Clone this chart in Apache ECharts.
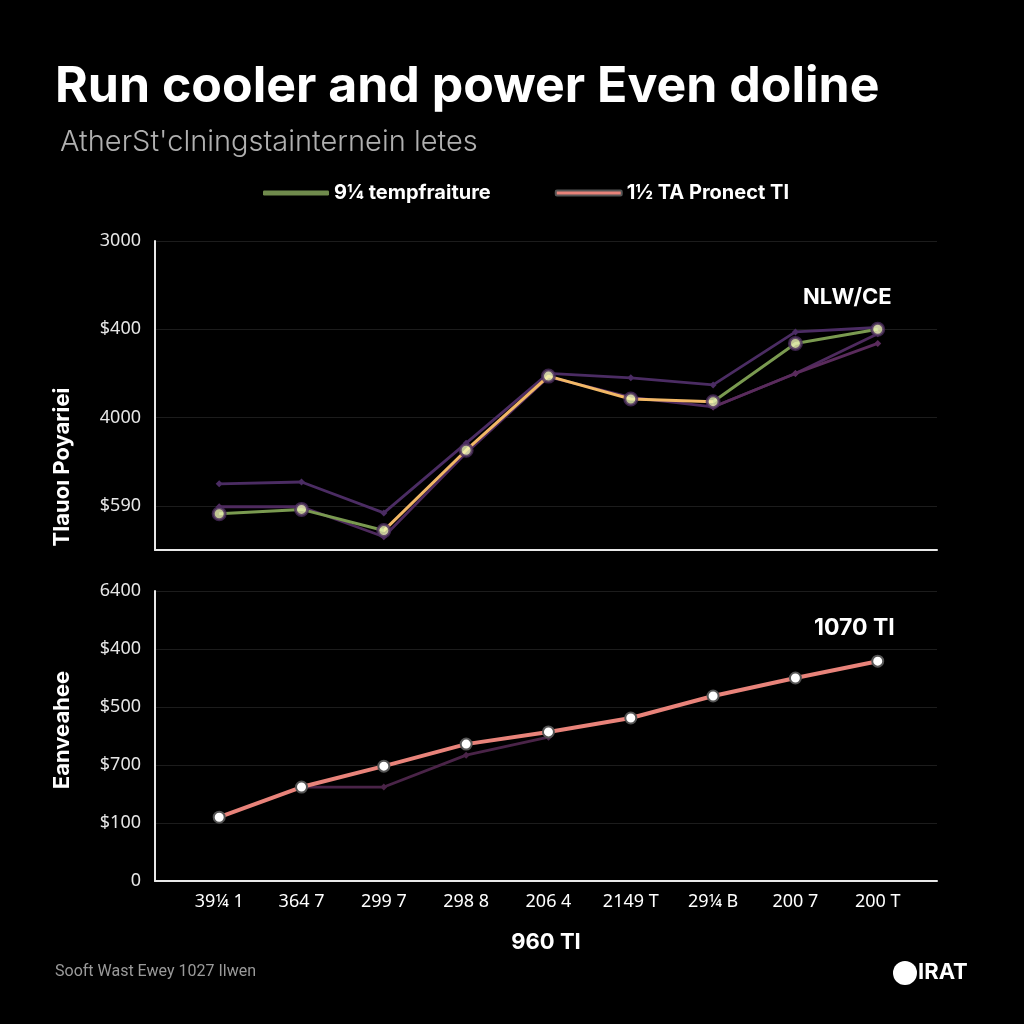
<!DOCTYPE html>
<html><head><meta charset="utf-8">
<script src="https://cdn.jsdelivr.net/npm/echarts@6/dist/echarts.min.js"></script>
<style>html,body{margin:0;background:#000}#c{width:1024px;height:1024px}</style>
</head><body><div id="c"></div>
<script>
const categories = ['39¼ 1','364 7','299 7','298 8','206 4','2149 T','29¼ B','200 7','200 T'];
const topTickValues = [0.5, 1.5, 2.5, 3.5];
const topTickLabels = ['$590', '4000', '$400', '3000'];
const bottomTickLabels = ['0', '$100', '$700', '$500', '$400', '6400'];
const temperature = [0.41, 0.46, 0.22, 1.13, 1.97, 1.71, 1.68, 2.34, 2.50];
const purpleA = [0.75, 0.77, 0.42, 1.21, 2.00, 1.95, 1.87, 2.47, 2.52];
const purpleB = [0.49, 0.49, 0.15, 1.10, 1.96, 1.73, 1.62, 2.00, 2.45];
const purpleC = [null, null, null, null, null, null, 1.62, 2.00, 2.34];
const project = [1.10, 1.62, 1.98, 2.36, 2.57, 2.81, 3.19, 3.50, 3.79];
const purpleBottom = [null, 1.62, 1.62, 2.17, 2.48, null, null, null, null];

const pairs = arr => arr.map((v, i) => [i, v]).filter(p => p[1] != null);
const FONT = 'Inter';
const chart = echarts.init(document.getElementById('c'), null, {renderer: 'canvas'});
const purpleSeries = (data, xi, color) => ({
  type: 'line', xAxisIndex: xi, yAxisIndex: xi, data: pairs(data),
  lineStyle: {color: color, width: 2.8}, symbol: 'diamond', symbolSize: 7,
  itemStyle: {color: color}, z: 2, silent: true
});
const axisLineStyle = {show: true, onZero: false, lineStyle: {color: '#e8e8e8', width: 2}};
chart.setOption({
  backgroundColor: '#000',
  animation: false,
  title: [
    {text: 'Run cooler and power Even doline', left: 50, top: 57,
     textStyle: {color: '#fff', fontFamily: FONT, fontWeight: 'bold', fontSize: 50}},
    {text: "AtherSt'clningstainternein letes", left: 55, top: 123,
     textStyle: {color: '#b0b0b0', fontFamily: FONT, fontWeight: 300, fontSize: 29}}
  ],
  legend: {
    left: 258, top: 178, itemWidth: 66, itemHeight: 5, itemGap: 64, icon: 'roundRect',
    textStyle: {color: '#fff', fontFamily: FONT, fontWeight: 'bold', fontSize: 20},
    data: [
      {name: '9¼ tempfraiture', itemStyle: {color: '#6f8a4c'}},
      {name: '1½ TA Pronect TI', itemStyle: {color: '#e8837a'}}
    ]
  },
  visualMap: {
    show: false, type: 'piecewise', seriesIndex: 0, dimension: 0,
    pieces: [
      {lt: 2, color: '#7a9a50'},
      {gte: 2, lte: 6, color: '#f2b866'},
      {gt: 6, color: '#7a9a50'}
    ]
  },
  grid: [
    {left: 155, right: 87, top: 241, height: 309},
    {left: 155, right: 87, top: 591, height: 290}
  ],
  xAxis: [
    {gridIndex: 0, type: 'value', min: -0.78, max: 8.72, axisLine: axisLineStyle,
     axisTick: {show: false}, axisLabel: {show: false}, splitLine: {show: false}},
    {gridIndex: 1, type: 'value', min: -0.78, max: 8.72, axisLine: axisLineStyle,
     axisTick: {show: false, customValues: [0,1,2,3,4,5,6,7,8]},
     axisLabel: {customValues: [0,1,2,3,4,5,6,7,8], color: '#fff', fontFamily: 'Noto Sans', fontSize: 18, margin: 12,
       formatter: v => categories[Math.round(v)]},
     splitLine: {show: false},
     name: '960 TI', nameLocation: 'middle', nameGap: 50,
     nameTextStyle: {color: '#fff', fontFamily: FONT, fontWeight: 'bold', fontSize: 22}}
  ],
  yAxis: [
    {gridIndex: 0, type: 'value', min: 0, max: 3.5, axisLine: axisLineStyle,
     axisTick: {show: false, customValues: topTickValues},
     axisLabel: {customValues: topTickValues, color: '#e6e6e6', fontFamily: 'Noto Sans', fontSize: 18, margin: 14,
       formatter: v => topTickLabels[topTickValues.indexOf(v)]},
     splitLine: {show: true, lineStyle: {color: '#1c1c1c', width: 1}}},
    {gridIndex: 1, type: 'value', min: 0, max: 5, interval: 1, axisLine: axisLineStyle,
     axisTick: {show: false},
     axisLabel: {color: '#e6e6e6', fontFamily: 'Noto Sans', fontSize: 18, margin: 14,
       formatter: v => bottomTickLabels[Math.round(v)]},
     splitLine: {show: true, lineStyle: {color: '#1c1c1c', width: 1}}}
  ],
  series: [
    {name: '9¼ tempfraiture', type: 'line', xAxisIndex: 0, yAxisIndex: 0, data: pairs(temperature),
     lineStyle: {width: 3}, symbol: 'none', z: 3},
    purpleSeries(purpleA, 0, '#4b2c63'),
    purpleSeries(purpleB, 0, '#4e2a5e'),
    purpleSeries(purpleC, 0, '#5a2b5c'),
    {type: 'scatter', xAxisIndex: 0, yAxisIndex: 0, data: pairs(temperature), symbolSize: 12,
     itemStyle: {color: '#f0f8b8', borderColor: '#4a2c5c', borderWidth: 3}, z: 5},
    purpleSeries(purpleBottom, 1, '#4a2448'),
    {name: '1½ TA Pronect TI', type: 'line', xAxisIndex: 1, yAxisIndex: 1, data: pairs(project),
     lineStyle: {color: '#e8837a', width: 4}, symbol: 'circle', symbolSize: 11,
     itemStyle: {color: '#ffffff', borderColor: '#555', borderWidth: 2}, z: 4}
  ],
  graphic: [
    {type: 'text', x: 62, y: 467, rotation: Math.PI / 2,
     style: {text: 'Tlauoı Poyariei', fill: '#fff', font: 'bold 22px Inter', align: 'center', verticalAlign: 'middle'}},
    {type: 'text', x: 62, y: 730, rotation: Math.PI / 2,
     style: {text: 'Eanveahee', fill: '#fff', font: 'bold 22px Inter', align: 'center', verticalAlign: 'middle'}},
    {type: 'text', left: 803, top: 286, style: {text: 'NLW/CE', fill: '#fff', font: 'bold 22px Inter'}},
    {type: 'text', left: 814, top: 617, style: {text: '1070 TI', fill: '#fff', font: 'bold 23px Inter'}},
    {type: 'text', left: 55, top: 964, style: {text: 'Sooft Wast Ewey 1027 Ilwen', fill: '#9a9a9a', font: '16px Roboto'}},
    {type: 'circle', shape: {cx: 905, cy: 973, r: 12}, style: {fill: '#fff'}},
    {type: 'text', left: 918, top: 961, style: {text: 'IRAT', fill: '#fff', font: 'bold 22px Inter'}}
  ]
});
</script></body></html>
